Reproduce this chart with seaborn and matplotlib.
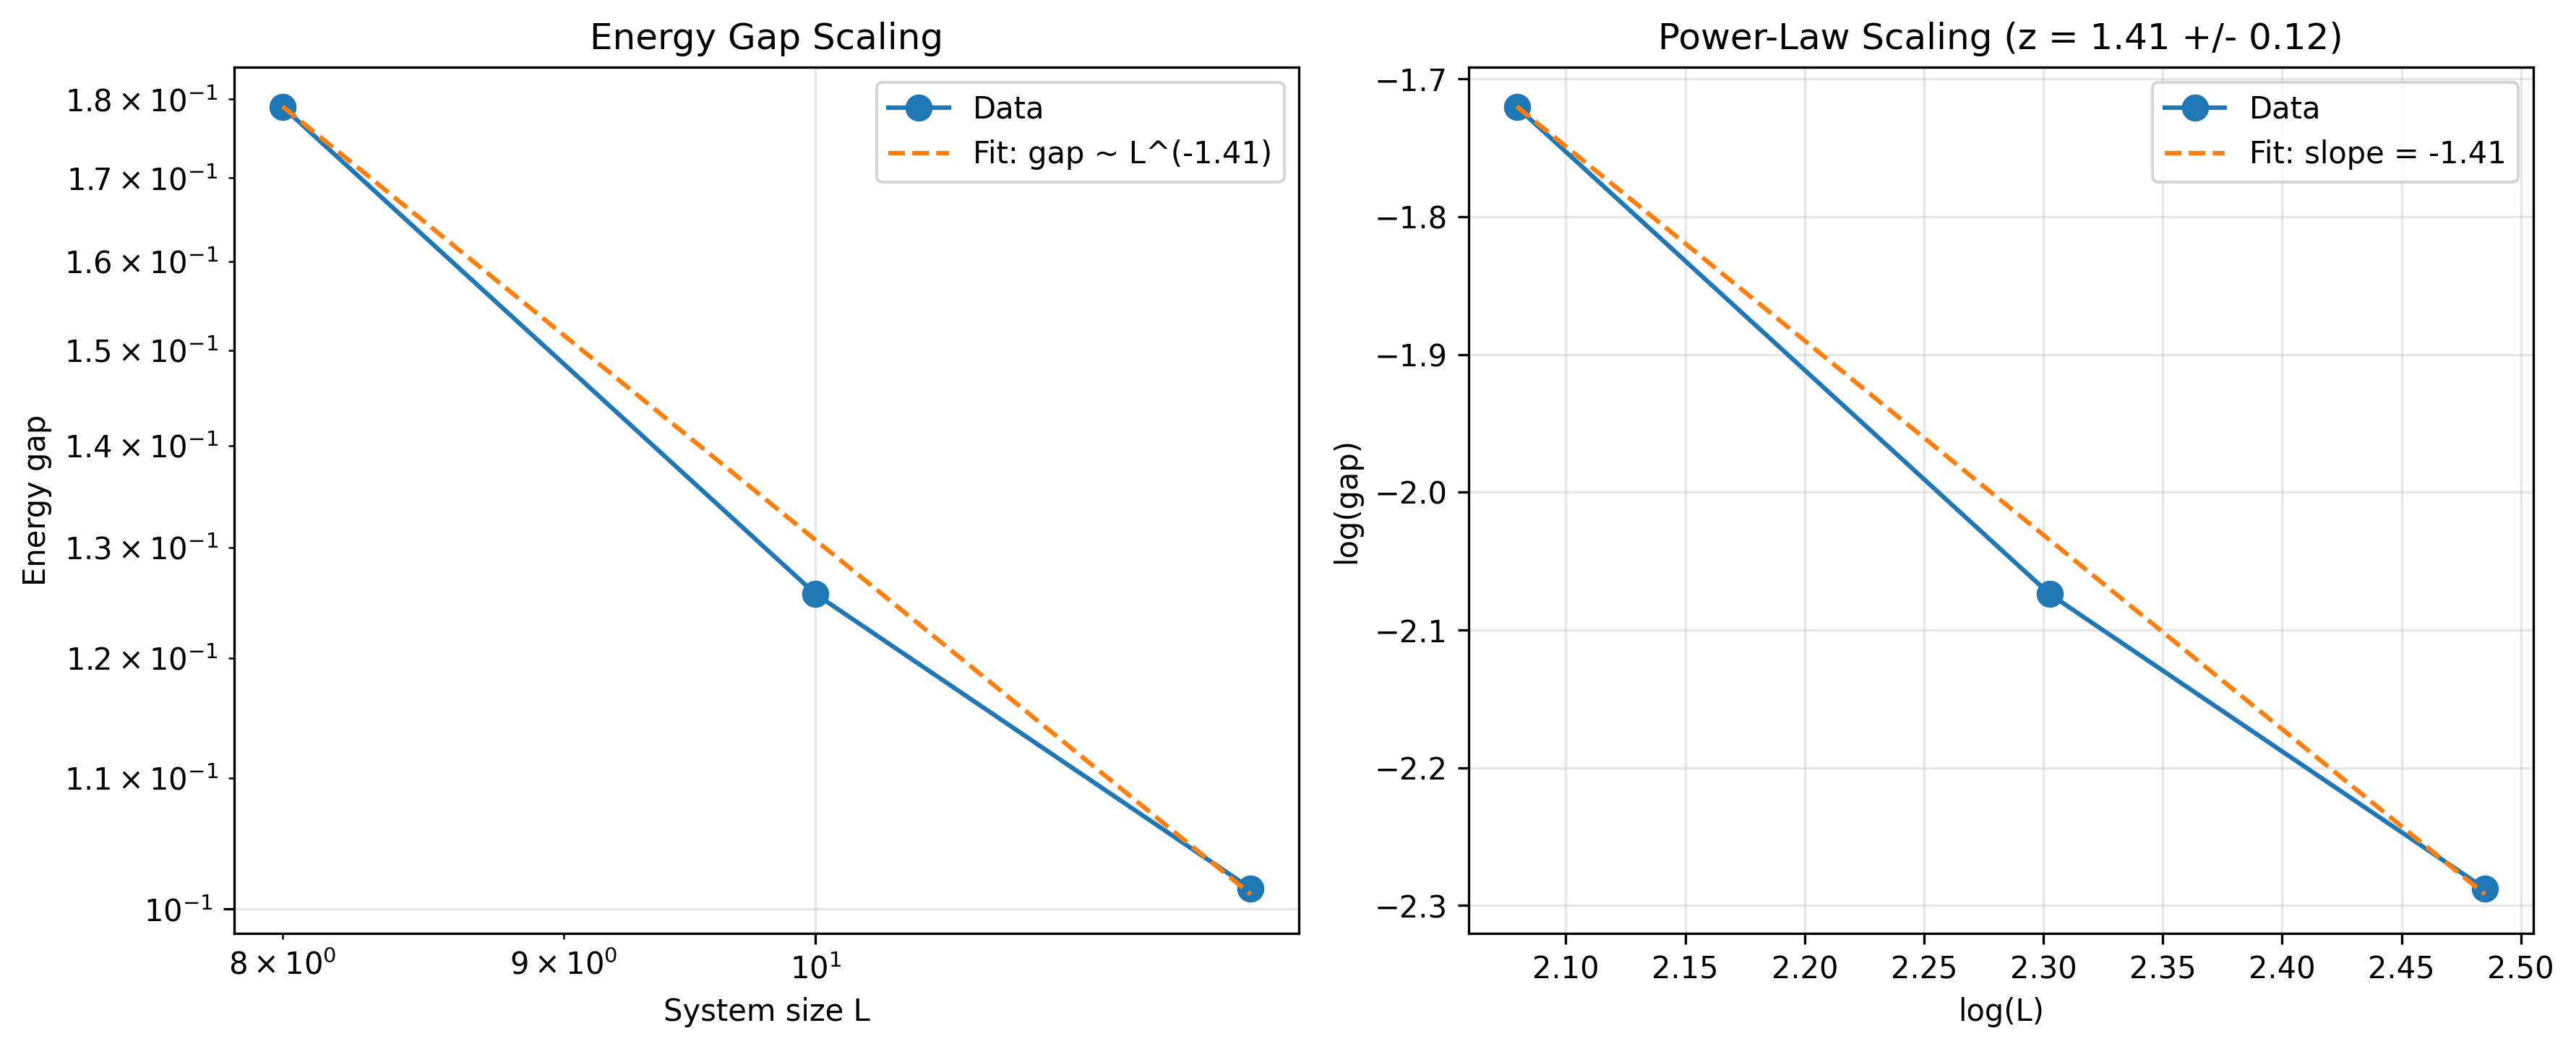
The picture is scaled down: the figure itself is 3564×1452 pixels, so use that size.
import numpy as np
import pandas as pd
import seaborn as sns
import matplotlib
matplotlib.use('Agg')
import matplotlib.pyplot as plt

# Dados
system_sizes = [8, 10, 12]
energy_gaps = [0.1790, 0.1257, 0.1015]

# Parametros do ajuste (lei de potencia)
fit_slope = -1.41
fit_intercept = 1.212
fit_err = 0.12

L = np.array(system_sizes, dtype=float)
gap = np.array(energy_gaps)
log_L = np.log(L)
log_gap = np.log(gap)
fit_log = fit_intercept + fit_slope * log_L
fit_gap = np.exp(fit_log)

df = pd.DataFrame({'L': L, 'gap': gap, 'logL': log_L, 'loggap': log_gap,
                   'fit_gap': fit_gap, 'fit_log': fit_log})

fig, axes = plt.subplots(1, 2, figsize=(12, 5))

# Painel esquerdo: escala log-log
ax = axes[0]
sns.lineplot(data=df, x='L', y='gap', marker='o', markersize=8,
             markeredgecolor='#1f77b4', markeredgewidth=1,
             color='#1f77b4', label='Data', ax=ax)
sns.lineplot(data=df, x='L', y='fit_gap', linestyle='--', color='#ff7f0e',
             label=f'Fit: gap ~ L^({fit_slope:.2f})', ax=ax)
ax.set_xscale('log')
ax.set_yscale('log')
ax.set_xlabel('System size L')
ax.set_ylabel('Energy gap')
ax.set_title('Energy Gap Scaling')
ax.grid(True, alpha=0.3)
ax.legend(loc='upper right')

# Painel direito: log(gap) vs log(L)
ax = axes[1]
sns.lineplot(data=df, x='logL', y='loggap', marker='o', markersize=8,
             markeredgecolor='#1f77b4', markeredgewidth=1,
             color='#1f77b4', label='Data', ax=ax)
sns.lineplot(data=df, x='logL', y='fit_log', linestyle='--', color='#ff7f0e',
             label=f'Fit: slope = {fit_slope:.2f}', ax=ax)
ax.set_xlabel('log(L)')
ax.set_ylabel('log(gap)')
ax.set_title(f'Power-Law Scaling (z = {-fit_slope:.2f} +/- {fit_err:.2f})')
ax.grid(True, alpha=0.3)
ax.legend(loc='upper right')

plt.tight_layout()
plt.savefig('out.png', dpi=300, bbox_inches='tight')
